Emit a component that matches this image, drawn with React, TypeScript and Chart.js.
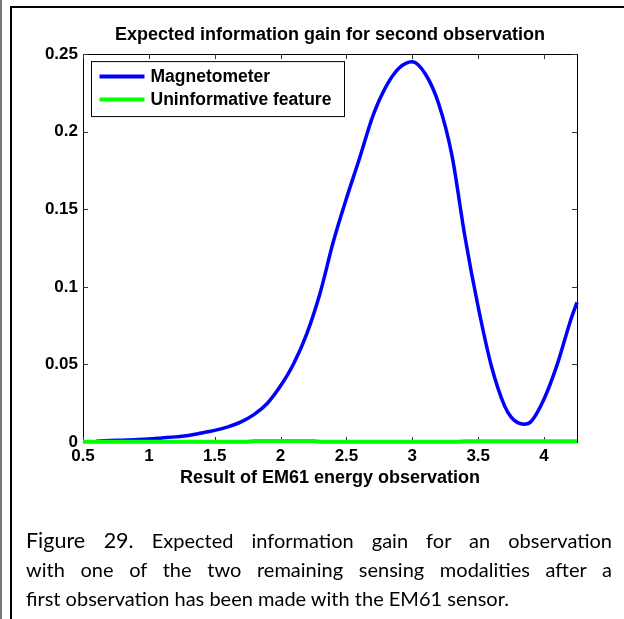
import React, { useEffect, useRef } from "react";
import { Chart, registerables } from "chart.js";

Chart.register(...registerables);

const TITLE = "Expected information gain for second observation";
const X_LABEL = "Result of EM61 energy observation";
const SERIES_NAMES = ["Magnetometer", "Uninformative feature"];
const SERIES_COLORS = ["#0000ff", "#00ff00"];

const X_TICKS = [0.5, 1, 1.5, 2, 2.5, 3, 3.5, 4];
const Y_TICKS = [0, 0.05, 0.1, 0.15, 0.2, 0.25];

const magX = [
  0.6, 0.7, 0.8, 0.9, 1.0, 1.1, 1.2, 1.3, 1.4, 1.5, 1.6, 1.7, 1.8, 1.9, 2.0,
  2.1, 2.2, 2.3, 2.4, 2.5, 2.6, 2.7, 2.8, 2.9, 3.0, 3.1, 3.2, 3.3, 3.4, 3.5,
  3.6, 3.7, 3.75, 3.8, 3.85, 3.9, 4.0, 4.1, 4.2, 4.25,
];
const magY = [
  0.0005, 0.0009, 0.0012, 0.0015, 0.0019, 0.0026, 0.0033, 0.0042, 0.0058,
  0.0075, 0.0098, 0.013, 0.0178, 0.025, 0.0362, 0.0506, 0.07, 0.096, 0.129,
  0.157, 0.183, 0.21, 0.229, 0.241, 0.245, 0.237, 0.218, 0.185, 0.132, 0.087,
  0.049, 0.0233, 0.016, 0.0125, 0.0115, 0.013, 0.0277, 0.05, 0.078, 0.09,
];

const uninfX = [0.5, 1.75, 1.8, 2.25, 2.3, 3.35, 3.4, 4.25];
const uninfY = [0.0001, 0.0001, 0.0006, 0.0006, 0.0001, 0.0001, 0.0005, 0.0005];

const FONT = "'Liberation Sans', Arial, sans-serif";

const frameAndTicks = {
  id: "frameAndTicks",
  beforeDatasetsDraw(chart: any) {
    const { ctx, chartArea: a, scales } = chart;
    ctx.save();
    ctx.strokeStyle = "#000";
    ctx.lineWidth = 1;
    ctx.strokeRect(Math.round(a.left) + 0.5, Math.round(a.top) + 0.5, Math.round(a.right - a.left), Math.round(a.bottom - a.top));
    const L = 5;
    ctx.strokeStyle = "#333";
    ctx.beginPath();
    X_TICKS.forEach((t) => {
      const x = Math.round(scales.x.getPixelForValue(t)) + 0.5;
      ctx.moveTo(x, a.top);
      ctx.lineTo(x, a.top + L);
      ctx.moveTo(x, a.bottom);
      ctx.lineTo(x, a.bottom - L);
    });
    Y_TICKS.forEach((t) => {
      const y = Math.round(scales.y.getPixelForValue(t)) + 0.5;
      ctx.moveTo(a.left, y);
      ctx.lineTo(a.left + L, y);
      ctx.moveTo(a.right, y);
      ctx.lineTo(a.right - L, y);
    });
    ctx.stroke();
    ctx.restore();
  },
  afterDraw(chart: any) {
    const { ctx, chartArea: a } = chart;
    ctx.save();
    const bx = a.left + 8.5;
    const by = a.top + 7.5;
    const bw = 253;
    const bh = 55;
    ctx.fillStyle = "#fff";
    ctx.fillRect(bx, by, bw, bh);
    ctx.strokeStyle = "#000";
    ctx.lineWidth = 1;
    ctx.strokeRect(bx, by, bw, bh);
    ctx.font = `bold 17.5px ${FONT}`;
    ctx.textBaseline = "middle";
    ctx.textAlign = "left";
    SERIES_NAMES.forEach((name, i) => {
      const y = by + 15 + i * 23;
      ctx.strokeStyle = SERIES_COLORS[i];
      ctx.lineWidth = 4;
      ctx.beginPath();
      ctx.moveTo(bx + 8, y);
      ctx.lineTo(bx + 53, y);
      ctx.stroke();
      ctx.fillStyle = "#000";
      ctx.fillText(name, bx + 59, y + 1);
    });
    ctx.restore();
  },
};

function fmt(v: number) {
  return String(Number(v.toFixed(2)));
}

export default function App() {
  const ref = useRef<HTMLCanvasElement | null>(null);
  useEffect(() => {
    if (!ref.current) return;
    const tickFont = { family: FONT, size: 17, weight: "bold" as const };
    const chart = new Chart(ref.current, {
      type: "line",
      data: {
        datasets: [
          {
            label: SERIES_NAMES[0],
            data: magX.map((x, i) => ({ x, y: magY[i] })),
            borderColor: SERIES_COLORS[0],
            borderWidth: 3.5,
            pointRadius: 0,
            cubicInterpolationMode: "monotone",
            clip: false as any,
            order: 1,
          },
          {
            label: SERIES_NAMES[1],
            data: uninfX.map((x, i) => ({ x, y: uninfY[i] })),
            borderColor: SERIES_COLORS[1],
            borderWidth: 4,
            pointRadius: 0,
            tension: 0,
            clip: false as any,
            order: 0,
          },
        ],
      },
      options: {
        animation: false,
        responsive: false,
        devicePixelRatio: 1,
        layout: { padding: { left: 0, right: 47, top: 0, bottom: 0 } },
        plugins: {
          legend: { display: false },
          tooltip: { enabled: false },
          title: {
            display: true,
            fullSize: false,
            text: TITLE,
            color: "#000",
            font: { family: FONT, size: 18, weight: "bold" },
            padding: { top: 24, bottom: 8.5 },
          },
        },
        scales: {
          x: {
            type: "linear",
            min: 0.5,
            max: 4.25,
            afterBuildTicks: (s: any) => {
              s.ticks = X_TICKS.map((v) => ({ value: v }));
            },
            afterFit: (s: any) => {
              s.height = 58;
            },
            ticks: {
              color: "#000",
              font: tickFont,
              padding: 4,
              maxRotation: 0,
              autoSkip: false,
              callback: (v: any) => fmt(Number(v)),
            },
            grid: { display: false, drawTicks: false },
            border: { display: false },
            title: {
              display: true,
              text: X_LABEL,
              color: "#000",
              font: { family: FONT, size: 18, weight: "bold" },
              padding: { top: 0, bottom: 11 },
            },
          },
          y: {
            type: "linear",
            min: 0,
            max: 0.25,
            afterBuildTicks: (s: any) => {
              s.ticks = Y_TICKS.map((v) => ({ value: v }));
            },
            afterFit: (s: any) => {
              s.width = 83;
            },
            ticks: {
              color: "#000",
              font: tickFont,
              padding: 5,
              autoSkip: false,
              callback: (v: any) => fmt(Number(v)),
            },
            grid: { display: false, drawTicks: false },
            border: { display: false },
          },
        },
      },
      plugins: [frameAndTicks],
    });
    return () => chart.destroy();
  }, []);

  const captionLine: React.CSSProperties = {
    whiteSpace: "nowrap",
    textAlign: "justify",
    textAlignLast: "justify",
    height: 29,
    lineHeight: "29px",
  };

  return (
    <div style={{ position: "absolute", left: 0, top: 0, width: 624, height: 619, overflow: "hidden", background: "#fff" }}>
      <canvas ref={ref} width={624} height={500} style={{ position: "absolute", left: 0, top: 0, width: 624, height: 500 }} />
      <div style={{ position: "absolute", left: 0, top: 0, width: 2, height: 619, background: "#777" }} />
      <div style={{ position: "absolute", left: 10, top: 6, width: 640, height: 640, borderLeft: "2px solid #000", borderTop: "2px solid #000" }} />
      <div style={{ position: "absolute", left: 26, top: 526, width: 586, fontFamily: "Lato, 'Open Sans', sans-serif", fontSize: 20, color: "#000" }}>
        <div style={captionLine}>
          <span style={{ fontSize: 21.5 }}>Figure 29.</span>{"  "}Expected information gain for an observation
        </div>
        <div style={captionLine}>with one of the two remaining sensing modalities after a</div>
        <div style={{ ...captionLine, textAlignLast: "left" }}>first observation has been made with the EM61 sensor.</div>
      </div>
    </div>
  );
}
